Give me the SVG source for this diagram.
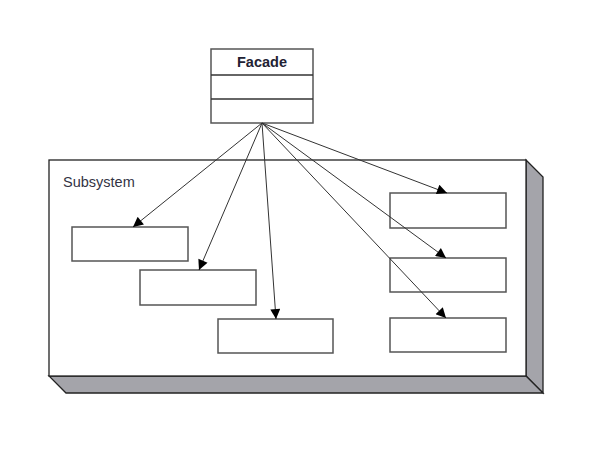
<svg xmlns="http://www.w3.org/2000/svg" width="601" height="459" viewBox="0 0 601 459">
<style>
.box{fill:#fff;stroke:#555;stroke-width:1.5}
.frame{fill:#fff;stroke:#222;stroke-width:1.3}
.side{fill:#a4a4aa;stroke:#222;stroke-width:1.3;stroke-linejoin:miter}
.conn{stroke:#333;stroke-width:1;fill:none;marker-end:url(#arr)}
.lbl{font-family:"Liberation Sans",Arial,sans-serif;font-size:14.5px;fill:#334}
</style>
<defs>
<marker id="arr" viewBox="0 0 10 10" refX="10" refY="5" markerWidth="11" markerHeight="10" markerUnits="userSpaceOnUse" orient="auto">
<path d="M0,0 L10,5 L0,10 z" fill="#000"/>
</marker>
</defs>
<rect width="601" height="459" fill="#fff"/>
<g id="subsystem">
<polygon class="side" points="526,160 543,177 543,393 526,376"/>
<polygon class="side" points="49,376 526,376 543,393 66,393"/>
<rect class="frame" x="49" y="160" width="477" height="216"/>
<text class="lbl" x="63" y="187">Subsystem</text>
</g>
<g id="facade">
<rect class="box" x="211" y="49" width="102" height="74" stroke="#333"/>
<line x1="211" y1="75" x2="313" y2="75" stroke="#333" stroke-width="1.5"/>
<line x1="211" y1="99" x2="313" y2="99" stroke="#333" stroke-width="1.5"/>
<text x="262" y="67" text-anchor="middle" font-family="'Liberation Sans',Arial,sans-serif" font-size="14.5" font-weight="bold" fill="#223">Facade</text>
</g>
<g id="c1"><rect class="box" x="72" y="227" width="116" height="34"/></g>
<g id="c2"><rect class="box" x="140" y="270" width="116" height="35"/></g>
<g id="c3"><rect class="box" x="218" y="319" width="115" height="34"/></g>
<g id="c4"><rect class="box" x="390" y="193" width="116" height="35"/></g>
<g id="c5"><rect class="box" x="390" y="258" width="116" height="34"/></g>
<g id="c6"><rect class="box" x="390" y="318" width="116" height="34"/></g>
<g id="connectors">
<line class="conn" x1="262" y1="123" x2="133" y2="227"/>
<line class="conn" x1="262" y1="123" x2="199" y2="270"/>
<line class="conn" x1="262" y1="123" x2="276" y2="319"/>
<line class="conn" x1="262" y1="123" x2="447" y2="193"/>
<line class="conn" x1="262" y1="123" x2="446" y2="258"/>
<line class="conn" x1="262" y1="123" x2="446" y2="318"/>
</g>
</svg>
